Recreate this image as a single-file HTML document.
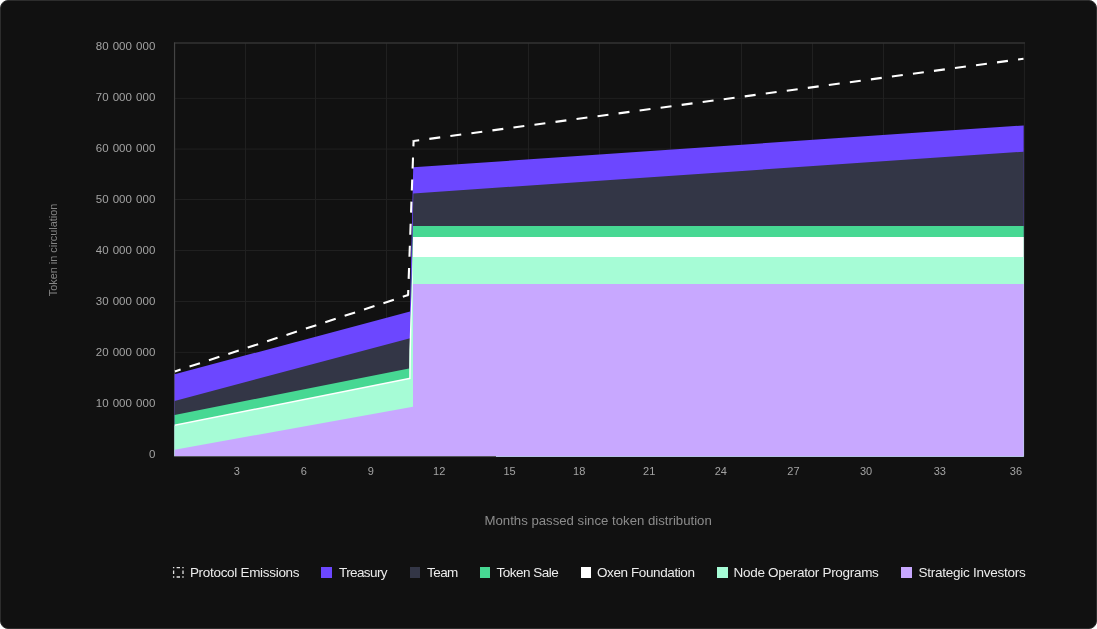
<!DOCTYPE html>
<html lang="en">
<head>
<meta charset="utf-8">
<title>Token in circulation</title>
<style>
  html, body { margin: 0; padding: 0; background: #ffffff; }
  body { width: 1097px; height: 629px; overflow: hidden; position: relative;
         font-family: "Liberation Sans", sans-serif; }
  .card { will-change: transform; position: absolute; left: 0; top: 0; width: 1097px; height: 629px; box-sizing: border-box;
          background: #111111; border: 1px solid #2d2d2d; border-radius: 8px; overflow: hidden; }
  svg.chart { position: absolute; left: -1px; top: -1px; width: 1097px; height: 629px; }
  .t { position: absolute; white-space: nowrap; line-height: 1; }
  .yl { color: #a3a3a3; font-size: 11.5px; text-align: right; width: 80px; left: 74.3px; word-spacing: 1px; }
  .xl { color: #a3a3a3; font-size: 11px; text-align: center; width: 40px; }
  .ax { color: #8c8c8c; font-size: 13px; }
  .ytitle { color: #868686; }
  .lg { color: #ececec; font-size: 13.5px; letter-spacing: -0.3px; }
  .ytitle { left: 53.1px; top: 250px; font-size: 10.9px; transform: translate(-50%,-50%) rotate(-90deg); margin-left:-1px; margin-top:-1px; }
  .sw { position: absolute; width: 10.5px; height: 10.5px; top: 566.3px; }
</style>
</head>
<body>
<div class="card">
<svg class="chart" viewBox="0 0 1097 629">
  <!-- grid -->
  <g stroke="#202020" stroke-width="1" fill="none">
    <line x1="174.5" y1="98.4" x2="1024.5" y2="98.4"/>
    <line x1="174.5" y1="149.1" x2="1024.5" y2="149.1"/>
    <line x1="174.5" y1="199.5" x2="1024.5" y2="199.5"/>
    <line x1="174.5" y1="250.5" x2="1024.5" y2="250.5"/>
    <line x1="174.5" y1="301.5" x2="1024.5" y2="301.5"/>
    <line x1="174.5" y1="352.4" x2="1024.5" y2="352.4"/>
    <line x1="174.5" y1="403.2" x2="1024.5" y2="403.2"/>
    <line x1="245.5" y1="43" x2="245.5" y2="456.5"/>
    <line x1="315.5" y1="43" x2="315.5" y2="456.5"/>
    <line x1="386.5" y1="43" x2="386.5" y2="456.5"/>
    <line x1="457.5" y1="43" x2="457.5" y2="456.5"/>
    <line x1="528.5" y1="43" x2="528.5" y2="456.5"/>
    <line x1="599.5" y1="43" x2="599.5" y2="456.5"/>
    <line x1="670.5" y1="43" x2="670.5" y2="456.5"/>
    <line x1="741.5" y1="43" x2="741.5" y2="456.5"/>
    <line x1="812.5" y1="43" x2="812.5" y2="456.5"/>
    <line x1="883.5" y1="43" x2="883.5" y2="456.5"/>
    <line x1="954.5" y1="43" x2="954.5" y2="456.5"/>
  </g>
  <!-- frame -->
  <line x1="1024.4" y1="42.4" x2="1024.4" y2="456.5" stroke="#222222" stroke-width="1"/>
  <line x1="173.95" y1="43.1" x2="1024.9" y2="43.1" stroke="#333333" stroke-width="1.5"/>
  <line x1="174.55" y1="42.4" x2="174.55" y2="457" stroke="#444444" stroke-width="1.2"/>
  <!-- areas, back to front -->
  <polygon fill="#6c47ff" points="174.6,374.3 410.0,311.6 413.2,167.3 1023.7,125.4 1023.7,456.5 174.6,456.5"/>
  <polygon fill="#333646" points="174.6,401 410.1,338.2 410.9,311.6 411.4,295 413.3,193.4 1023.7,151.7 1023.7,456.5 174.6,456.5"/>
  <polygon fill="#47d893" points="174.6,414.9 409,368.4 410.9,311.6 411.4,295 413,225.9 1023.7,225.9 1023.7,456.5 174.6,456.5"/>
  <polygon fill="#ffffff" points="174.6,424.4 409.2,377.8 409.4,350 410.3,320 411.4,296 412.3,270 413,236.9 1023.7,236.9 1023.7,456.5 174.6,456.5"/>
  <polygon fill="#a6fcd6" points="174.6,426 410.6,379 411,350 411.6,320 412.4,296 412.8,284 413,257 1023.7,257 1023.7,456.5 174.6,456.5"/>
  <polygon fill="#c8a8ff" points="174.6,449.8 413,406.8 413,283.9 1023.7,283.9 1023.7,456.5 174.6,456.5"/>
  <line x1="174" y1="456.6" x2="496" y2="456.6" stroke="#3c3c3c" stroke-width="0.9"/>
  <!-- protocol emissions -->
  <g fill="none" stroke="#ffffff" stroke-width="2.1">
    <line x1="174.9" y1="371.4" x2="408.1" y2="295.1" stroke-dasharray="11 9.4" stroke-dashoffset="5"/>
    <line x1="413.6" y1="141" x2="408.1" y2="295.1" stroke-dasharray="11 11.1" stroke-dashoffset="5.6"/>
    <line x1="413.6" y1="141" x2="1023.5" y2="58.8" stroke-dasharray="11 10.216" stroke-dashoffset="5.35"/>
  </g>
  <rect x="407.1" y="294.6" width="1.6" height="1.5" fill="#ffffff"/>
  <rect x="412.55" y="139.95" width="1.1" height="1.1" fill="#ffffff"/>
</svg>
<div class="t yl" style="top:39.7px">80 000 000</div>
<div class="t yl" style="top:90.6px">70 000 000</div>
<div class="t yl" style="top:141.6px">60 000 000</div>
<div class="t yl" style="top:192.7px">50 000 000</div>
<div class="t yl" style="top:243.5px">40 000 000</div>
<div class="t yl" style="top:294.7px">30 000 000</div>
<div class="t yl" style="top:346.0px">20 000 000</div>
<div class="t yl" style="top:396.8px">10 000 000</div>
<div class="t yl" style="top:447.8px">0</div>
<div class="t xl" style="left:215.8px;top:464.9px">3</div>
<div class="t xl" style="left:282.9px;top:464.9px">6</div>
<div class="t xl" style="left:349.7px;top:464.9px">9</div>
<div class="t xl" style="left:418.2px;top:464.9px">12</div>
<div class="t xl" style="left:488.6px;top:464.9px">15</div>
<div class="t xl" style="left:558.2px;top:464.9px">18</div>
<div class="t xl" style="left:628.2px;top:464.9px">21</div>
<div class="t xl" style="left:699.8px;top:464.9px">24</div>
<div class="t xl" style="left:772.4px;top:464.9px">27</div>
<div class="t xl" style="left:845.0px;top:464.9px">30</div>
<div class="t xl" style="left:918.8px;top:464.9px">33</div>
<div class="t xl" style="left:994.9px;top:464.9px">36</div>
<div class="t ax" style="left:483.5px;top:513px;font-size:13.2px">Months passed since token distribution</div>
<div class="t ax ytitle">Token in circulation</div>
<svg class="sw" style="left:172.1px;overflow:visible" viewBox="0 0 10.5 10.5"><rect x="0.6" y="0.6" width="9.4" height="9.4" fill="none" stroke="#e4e4e4" stroke-width="1.3" stroke-dasharray="1.4 2.3 3.4 2.3" stroke-dashoffset="0.7"/></svg>
<div class="t lg" style="left:188.9px;top:565px">Protocol Emissions</div>
<div class="sw" style="left:320.3px;background:#6c47ff"></div>
<div class="t lg" style="left:338.0px;top:565px;letter-spacing:-0.6px">Treasury</div>
<div class="sw" style="left:408.7px;background:#333646"></div>
<div class="t lg" style="left:426.0px;top:565px;letter-spacing:-0.55px">Team</div>
<div class="sw" style="left:478.5px;background:#47d893"></div>
<div class="t lg" style="left:495.4px;top:565px;letter-spacing:-0.5px">Token Sale</div>
<div class="sw" style="left:579.5px;background:#ffffff"></div>
<div class="t lg" style="left:596.0px;top:565px;letter-spacing:-0.4px">Oxen Foundation</div>
<div class="sw" style="left:716.4px;background:#a6fcd6"></div>
<div class="t lg" style="left:732.6px;top:565px">Node Operator Programs</div>
<div class="sw" style="left:900.2px;background:#c8a8ff"></div>
<div class="t lg" style="left:917.5px;top:565px;letter-spacing:-0.25px">Strategic Investors</div>
</div>
</body>
</html>
